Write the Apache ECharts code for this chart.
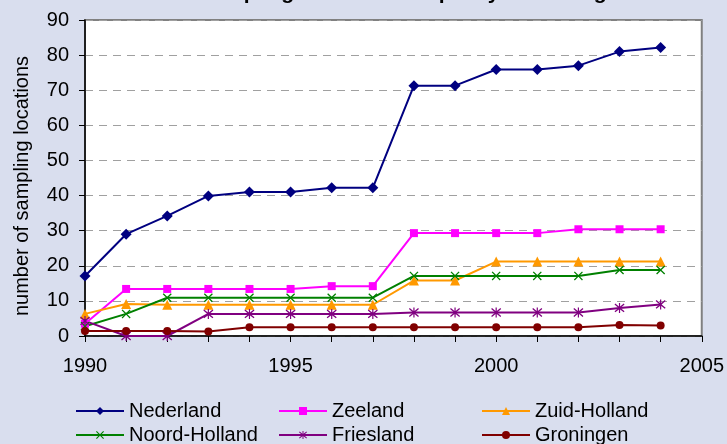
<!DOCTYPE html>
<html>
<head>
<meta charset="utf-8">
<script src="https://cdn.jsdelivr.net/npm/echarts@6/dist/echarts.min.js"></script>
<style>
html,body{margin:0;padding:0;background:#D9DEEE;}
#c{width:727px;height:444px;}
</style>
</head>
<body>
<div id="c"></div>
<script>
var years = [1990,1991,1992,1993,1994,1995,1996,1997,1998,1999,2000,2001,2002,2003,2004];
var nederland = [17.1,29,34.2,39.9,41,41,42.2,42.2,71.3,71.3,75.9,75.9,77,81,82.2];
var zeeland = [3.5,13.4,13.4,13.4,13.4,13.4,14.2,14.2,29.3,29.3,29.3,29.3,30.4,30.4,30.4];
var zuidHolland = [6.3,9.1,8.9,8.9,8.9,8.9,8.9,8.9,15.8,15.8,21.2,21.2,21.2,21.2,21.2];
var noordHolland = [2.8,6.3,10.9,10.9,10.9,10.9,10.9,10.9,17.1,17.1,17.1,17.1,17.1,18.8,18.8];
var friesland = [4.3,0,0,6.3,6.3,6.3,6.3,6.3,6.7,6.7,6.7,6.7,6.7,8,9];
var groningen = [1.4,1.4,1.4,1.3,2.5,2.5,2.5,2.5,2.5,2.5,2.5,2.5,2.5,3.1,3];
var yTicks = [0,10,20,30,40,50,60,70,80,90];
var xLabelYears = [1990,1995,2000,2005];

var FONT = '"Liberation Sans", Arial, sans-serif';
var X_PATH = 'path://M0,1 L1,0 L5,4 L9,0 L10,1 L6,5 L10,9 L9,10 L5,6 L1,10 L0,9 L4,5 Z';
var STAR_PATH = 'path://M0,1.6 L0.8,0.6 L5,4 L9.2,0.6 L10,1.6 L6,5 L10,8.4 L9.2,9.4 L5,6 L0.8,9.4 L0,8.4 L4,5 Z M4.4,0 L5.6,0 L5.6,10 L4.4,10 Z';

function pairs(arr){ return years.map(function(y,i){ return [y, arr[i]]; }); }

var seriesDefs = [
  {name:'Nederland', data:nederland, color:'#000080', symbol:'diamond', size:11},
  {name:'Zeeland', data:zeeland, color:'#FF00FF', symbol:'rect', size:8},
  {name:'Zuid-Holland', data:zuidHolland, color:'#FF9900', symbol:'triangle', size:10},
  {name:'Noord-Holland', data:noordHolland, color:'#008000', symbol:X_PATH, size:9},
  {name:'Friesland', data:friesland, color:'#800080', symbol:STAR_PATH, size:10},
  {name:'Groningen', data:groningen, color:'#800000', symbol:'circle', size:8}
];

var chart = echarts.init(document.getElementById('c'), null, {renderer:'canvas'});
chart.setOption({
  backgroundColor:'#D9DEEE',
  animation:false,
  textStyle:{fontFamily:FONT},
  graphic:[{
    type:'text', x:91, y:4,
    style:{text:'Number of sampling locations for quality of bathing water', font:'bold 21px ' + FONT, fill:'#000', verticalAlign:'bottom'}
  }],
  grid:{left:85, right:25, top:20, bottom:108, show:true, backgroundColor:'#FFFFFF', borderColor:'#808080', borderWidth:2},
  legend:{
    left:75, top:399, width:620, itemGap:0, itemWidth:48, itemHeight:10, padding:0,
    textStyle:{fontSize:20, color:'#000', fontFamily:FONT, width:149, lineHeight:24},
    data:seriesDefs.map(function(s){return s.name;})
  },
  xAxis:{
    type:'value', min:1990, max:2005, interval:1,
    axisLine:{show:true, lineStyle:{color:'#000', width:1.5}},
    axisTick:{show:true, length:6, lineStyle:{color:'#000'}},
    axisLabel:{fontSize:20, color:'#000', margin:20, fontFamily:FONT,
      formatter:function(v){ return xLabelYears.indexOf(v) >= 0 ? String(v) : ''; }},
    splitLine:{show:false}
  },
  yAxis:{
    type:'value', min:0, max:90, interval:10,
    name:'number of sampling locations', nameLocation:'middle', nameGap:53,
    nameTextStyle:{fontSize:20, color:'#000', fontFamily:FONT, padding:[0,16,0,0]},
    axisLine:{show:true, lineStyle:{color:'#000', width:1.5}},
    axisTick:{show:true, length:6, lineStyle:{color:'#000'}},
    axisLabel:{fontSize:20, color:'#000', margin:16, fontFamily:FONT,
      formatter:function(v){ return yTicks.indexOf(v) >= 0 ? String(v) : ''; }},
    splitLine:{show:true, lineStyle:{color:'#A0A0A0', type:[8,6], width:1.2}}
  },
  series:seriesDefs.map(function(s){
    return {
      name:s.name, type:'line', data:pairs(s.data),
      symbol:s.symbol, symbolSize:s.size, showAllSymbol:true,
      lineStyle:{color:s.color, width:2},
      itemStyle:{color:s.color, borderWidth:0},
      emphasis:{disabled:true}
    };
  })
});
</script>
</body>
</html>
